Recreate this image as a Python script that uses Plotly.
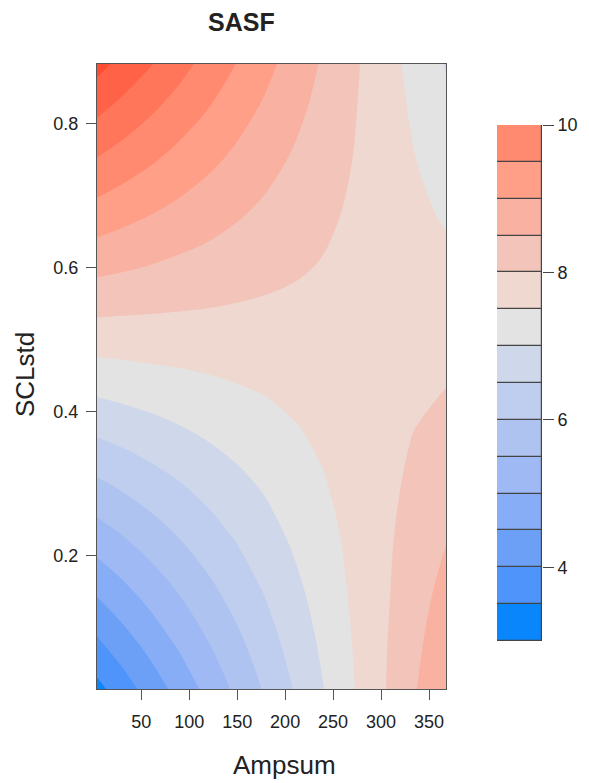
import plotly.graph_objects as go

# ---- data ----
ampsum = [0, 30, 60, 90, 120, 150, 180, 210, 240, 270, 300, 330, 370]
sclstd = [0.0, 0.075, 0.15, 0.225, 0.3, 0.375, 0.45, 0.525, 0.6, 0.675, 0.75, 0.825, 0.9]
# SASF values, one row per SCLstd value (rows bottom -> top), columns follow Ampsum
sasf = [
    [3.15, 3.63, 4.11, 4.58, 5.06, 5.54, 6.01, 6.49, 6.97, 7.45, 7.92, 8.40, 9.04],
    [3.84, 4.24, 4.65, 5.06, 5.47, 5.87, 6.28, 6.69, 7.09, 7.50, 7.91, 8.32, 8.86],
    [4.52, 4.86, 5.20, 5.53, 5.87, 6.21, 6.54, 6.88, 7.22, 7.56, 7.89, 8.23, 8.68],
    [5.21, 5.47, 5.74, 6.01, 6.28, 6.54, 6.81, 7.08, 7.34, 7.61, 7.88, 8.15, 8.50],
    [5.89, 6.09, 6.29, 6.48, 6.68, 6.88, 7.07, 7.27, 7.47, 7.67, 7.86, 8.06, 8.32],
    [6.58, 6.70, 6.83, 6.96, 7.09, 7.21, 7.34, 7.47, 7.59, 7.72, 7.85, 7.98, 8.15],
    [7.26, 7.32, 7.38, 7.43, 7.49, 7.55, 7.60, 7.66, 7.72, 7.78, 7.83, 7.89, 7.97],
    [7.95, 7.93, 7.92, 7.91, 7.90, 7.88, 7.87, 7.86, 7.84, 7.83, 7.82, 7.81, 7.79],
    [8.63, 8.55, 8.47, 8.38, 8.30, 8.22, 8.13, 8.05, 7.97, 7.89, 7.80, 7.72, 7.61],
    [9.32, 9.16, 9.01, 8.86, 8.71, 8.55, 8.40, 8.25, 8.09, 7.94, 7.79, 7.64, 7.43],
    [10.00, 9.78, 9.56, 9.33, 9.11, 8.89, 8.66, 8.44, 8.22, 8.00, 7.77, 7.55, 7.25],
    [10.69, 10.39, 10.10, 9.81, 9.52, 9.22, 8.93, 8.64, 8.34, 8.05, 7.76, 7.47, 7.08],
    [11.37, 11.01, 10.65, 10.28, 9.92, 9.56, 9.20, 8.83, 8.47, 8.11, 7.74, 7.38, 6.90],
]

# contour bands (lower edge of each 0.5 band) and their colours
band_lows = [3.0, 3.5, 4.0, 4.5, 5.0, 5.5, 6.0, 6.5, 7.0, 7.5, 8.0, 8.5, 9.0, 9.5, 10.0, 10.5, 11.0]
band_colors = ["#0A86FC", "#4E94FA", "#6CA0F7", "#86ADF5", "#9EB9F3", "#AFC3F0",
               "#BFCDEE", "#CFD7EA", "#E3E3E3", "#EED8D0", "#F3C4B9", "#F9B1A1",
               "#FF9F88", "#FF8A70", "#FF765A", "#FF6246", "#FF4D33"]

# colour key (shows 3 .. 10)
key_lows = band_lows[:14]
key_colors = band_colors[:14]
key_ticks = [4, 6, 8, 10]

x_ticks = [50, 100, 150, 200, 250, 300, 350]
y_ticks = [0.2, 0.4, 0.6, 0.8]

FONT = "Liberation Sans, Arial, Helvetica, sans-serif"
TXT = "#222222"

# stepped colour scale, one step per band
n = len(band_colors)
cscale = []
for i, c in enumerate(band_colors):
    cscale.append([i / n, c])
    cscale.append([(i + 1) / n, c])

fig = go.Figure()
fig.add_trace(go.Contour(
    x=ampsum, y=sclstd, z=sasf,
    zmin=band_lows[0], zmax=band_lows[-1] + 0.5,
    colorscale=cscale,
    contours=dict(start=band_lows[0], end=band_lows[-1] + 0.5, size=0.5, coloring="fill"),
    line=dict(width=0, smoothing=1.0),
    showscale=False,
    hoverinfo="skip",
))

# colour key as outlined stacked boxes
fig.add_trace(go.Bar(
    x=[0] * len(key_lows), y=[0.5] * len(key_lows), base=key_lows,
    width=1, marker=dict(color=key_colors, line=dict(color="#444444", width=1.2)),
    xaxis="x2", yaxis="y2", showlegend=False, hoverinfo="skip",
))

# the page body adds an 8px offset; lay out in window pixels minus that offset
OFF = 8
W, H = 589 - OFF, 783 - OFF
L, T = 97 - OFF, 64 - OFF
B = H - (689 - OFF)
R = 0
pw, ph = W - L - R, H - T - B

def px_x(p):
    return (p - OFF - L) / pw

def px_y(p):
    return (H - B - (p - OFF)) / ph

axis_common = dict(
    showgrid=False, zeroline=False, showline=True, linecolor="#555555", linewidth=1,
    mirror=True, ticks="outside", ticklen=10, tickcolor="#555555",
    tickfont=dict(family=FONT, size=18, color=TXT),
)

fig.update_layout(
    width=W, height=H,
    margin=dict(l=L, r=R, t=T, b=B),
    paper_bgcolor="white", plot_bgcolor="white",
    barmode="overlay", bargap=0,
    xaxis=dict(domain=[0, px_x(446)], range=[3.9, 367.7], tickvals=x_ticks,
               ticklabelstandoff=6, **axis_common),
    yaxis=dict(domain=[0, 1], range=[0.015, 0.883], tickvals=y_ticks,
               ticklabelstandoff=4, **axis_common),
    xaxis2=dict(domain=[px_x(497), px_x(542)], range=[-0.5, 0.5], anchor="y2",
                showticklabels=False, showgrid=False, zeroline=False, showline=False),
    yaxis2=dict(domain=[px_y(641), px_y(125)], range=[3, 10], anchor="x2", side="right",
                tickvals=key_ticks, ticks="outside", ticklen=11, tickcolor="#444444",
                showgrid=False, zeroline=False, showline=False,
                tickfont=dict(family=FONT, size=18, color=TXT)),
    annotations=[
        dict(text="<b>SASF</b>", x=px_x(241), y=px_y(22), xref="paper", yref="paper",
             showarrow=False, xanchor="center", yanchor="middle",
             font=dict(family=FONT, size=25, color=TXT)),
        dict(text="Ampsum", x=px_x(284), y=px_y(765), xref="paper", yref="paper",
             showarrow=False, xanchor="center", yanchor="middle",
             font=dict(family=FONT, size=26, color=TXT)),
        dict(text="SCLstd", x=px_x(25), y=px_y(375), xref="paper", yref="paper",
             showarrow=False, xanchor="center", yanchor="middle", textangle=-90,
             font=dict(family=FONT, size=26, color=TXT)),
    ],
)

fig.write_html("out.html")
